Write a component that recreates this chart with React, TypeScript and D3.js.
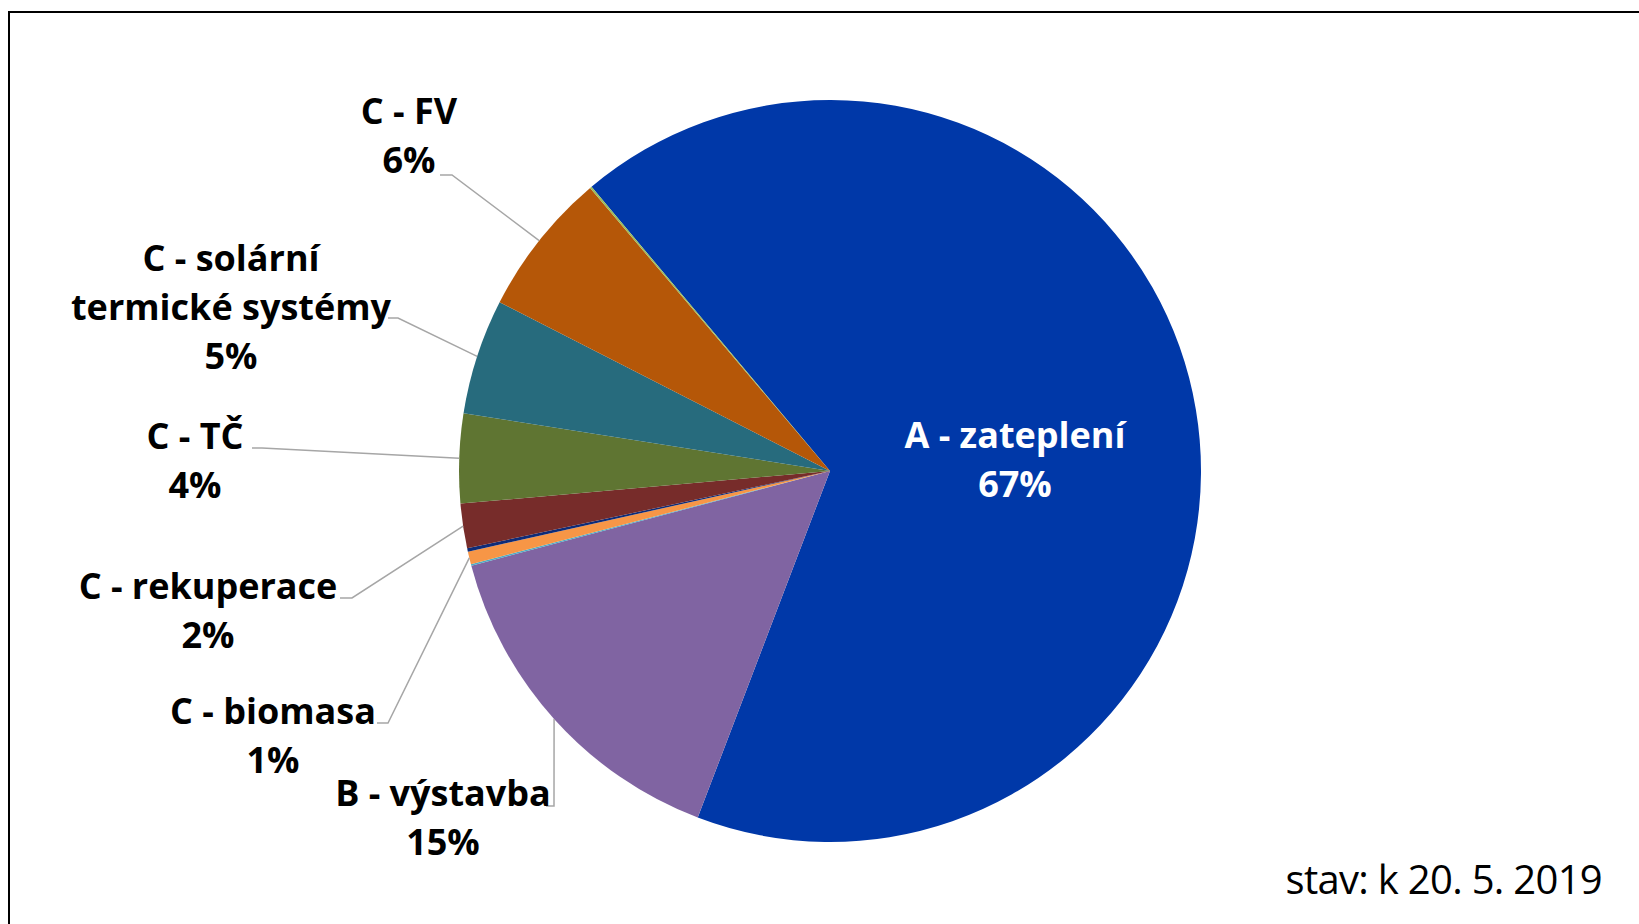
import * as d3 from "d3";

const width = 1639;
const height = 924;

// slices in clockwise order, starting from A
const categories = [
  "A - zateplení",
  "B - výstavba",
  "C - kotle",
  "C - biomasa",
  "C - ostatní",
  "C - rekuperace",
  "C - TČ",
  "C - solární termické systémy",
  "C - FV",
  "C - kombinace",
];
const values = [66.96, 15.1, 0.07, 0.55, 0.15, 1.94, 3.89, 5.03, 6.3, 0.08];
const colors = [
  "#0038A8",
  "#8064A2",
  "#4BACC6",
  "#F79646",
  "#0E2C78",
  "#772C2A",
  "#5F7532",
  "#276B7D",
  "#B55708",
  "#9BBB59",
];

const stamp = "stav: k 20. 5. 2019";

const cx = 830;
const cy = 471;
const radius = 371;
const firstAngle = (320 * Math.PI) / 180;
const lineGap = 49;

// where each visible label sits; leader = points from the label towards the slice
const labelLayout = [
  { i: 0, x: 1015, y: 448, lines: ["A - zateplení"], fill: "#fff", leader: null },
  { i: 1, x: 443, y: 806, lines: ["B - výstavba"], fill: "#000", leader: [[546, 806], [554, 806]] },
  { i: 3, x: 273, y: 724, lines: ["C - biomasa"], fill: "#000", leader: [[377, 723], [388, 723]] },
  { i: 5, x: 208, y: 599, lines: ["C - rekuperace"], fill: "#000", leader: [[340, 598], [352, 598]] },
  { i: 6, x: 195, y: 449, lines: ["C - TČ"], fill: "#000", leader: [[252, 448], [262, 448]] },
  { i: 7, x: 231, y: 271, lines: ["C - solární", "termické systémy"], fill: "#000", leader: [[388, 318], [398, 318]] },
  { i: 8, x: 409, y: 124, lines: ["C - FV"], fill: "#000", leader: [[440, 175], [452, 175]] },
];

const App = () => {
  const total = d3.sum(values);
  const pie = d3
    .pie<number>()
    .sort(null)
    .startAngle(firstAngle)
    .endAngle(firstAngle + 2 * Math.PI);
  const arcs = pie(values);
  const arc = d3.arc<d3.PieArcDatum<number>>().innerRadius(0).outerRadius(radius);
  const pct = d3.format(".0%");

  const edgePoint = (a: d3.PieArcDatum<number>) => {
    const mid = (a.startAngle + a.endAngle) / 2;
    return [cx + radius * Math.sin(mid), cy - radius * Math.cos(mid)];
  };

  return (
    <svg
      width={width}
      height={height}
      style={{ position: "absolute", left: 0, top: 0, background: "#fff" }}
    >
      <rect x={9} y={12} width={width * 2} height={height * 2} fill="#fff" stroke="#000" strokeWidth={2} />

      <g transform={`translate(${cx},${cy})`}>
        {arcs.map((a, k) => (
          <path key={categories[k]} d={arc(a) ?? ""} fill={colors[k]} />
        ))}
      </g>

      <g className="leaders" fill="none" stroke="#A6A6A6" strokeWidth={1.5}>
        {labelLayout
          .filter((l) => l.leader)
          .map((l) => {
            const pts = [...(l.leader as number[][]), edgePoint(arcs[l.i])];
            return <polyline key={l.i} points={pts.map((p) => p.join(",")).join(" ")} />;
          })}
      </g>

      <g className="labels" fontFamily="'Open Sans', 'Noto Sans', sans-serif" fontWeight={700} fontSize={36} textAnchor="middle">
        {labelLayout.map((l) => (
          <text key={l.i} fill={l.fill}>
            {l.lines.map((t, j) => (
              <tspan key={j} x={l.x} y={l.y + j * lineGap}>
                {t}
              </tspan>
            ))}
            <tspan x={l.x} y={l.y + l.lines.length * lineGap}>
              {pct(values[l.i] / total)}
            </tspan>
          </text>
        ))}
      </g>

      <text
        x={1602}
        y={894}
        textAnchor="end"
        fontFamily="'Open Sans', 'Noto Sans', sans-serif"
        fontSize={40}
        letterSpacing={-0.7}
        fill="#000"
      >
        {stamp}
      </text>
    </svg>
  );
};

export default App;
